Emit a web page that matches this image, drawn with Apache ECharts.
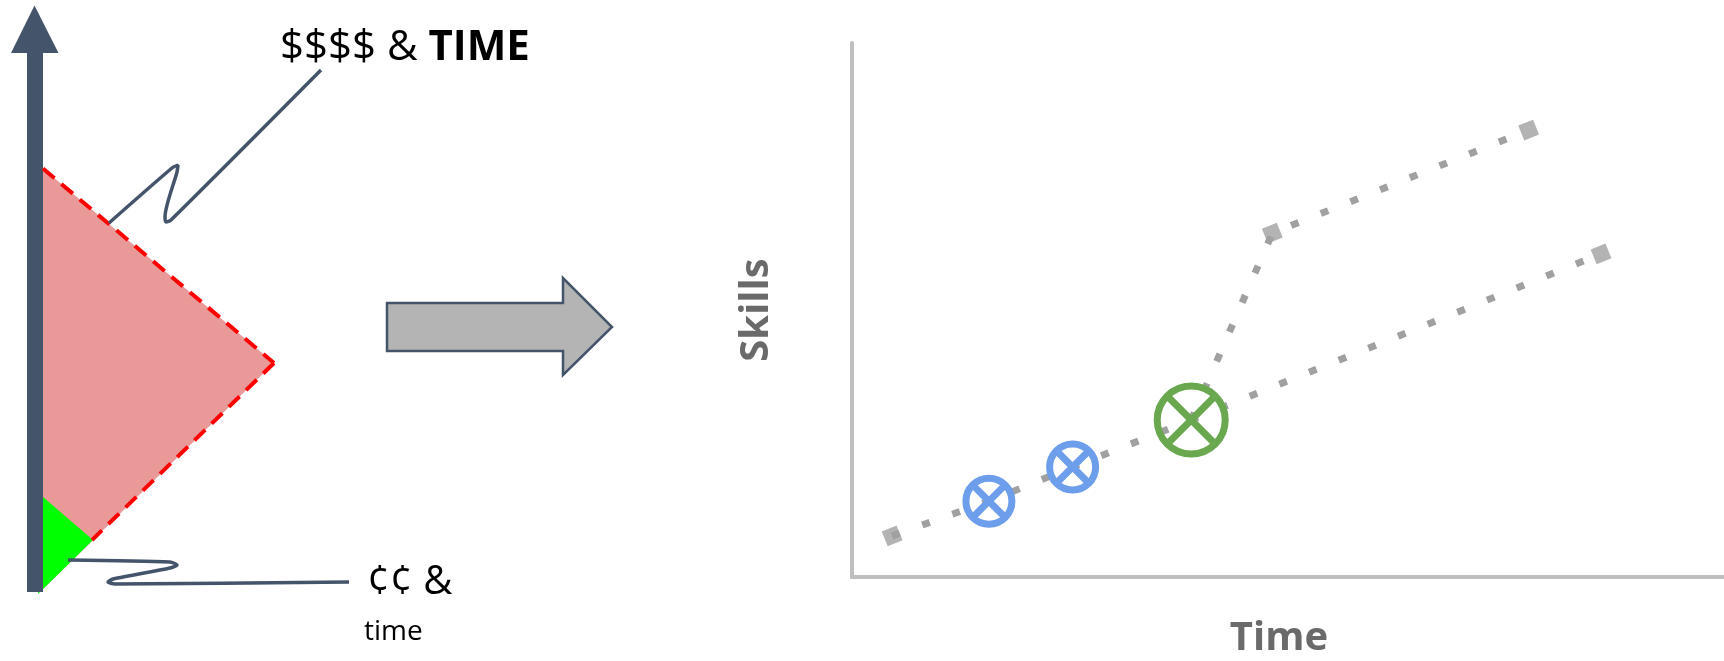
<!DOCTYPE html>
<html>
<head>
<meta charset="utf-8">
<script src="https://cdn.jsdelivr.net/npm/echarts@6/dist/echarts.min.js"></script>
<style>
html, body { margin: 0; padding: 0; background: #fff; }
#chart { width: 1724px; height: 661px; }
</style>
</head>
<body>
<div id="chart"></div>
<script>
// right panel: skills over time, both axes 0..100 (no ticks in the picture)
const lowerPath = [[4.6, 7.7], [15.7, 14.2], [25.3, 20.6], [38.9, 29.4], [85.9, 60.5]];
const upperPath = [[38.9, 29.4], [48.2, 64.4], [77.6, 83.7]];
const milestones = [[4.6, 7.7], [48.2, 64.4], [77.6, 83.7], [85.9, 60.5]];
const smallSteps = [[15.7, 14.2], [25.3, 20.6]];
const bigStep = [[38.9, 29.4]];

// left panel: diagram shapes, in panel units (x right, y down)
const axisShaft = [[27, 53], [43, 53], [43, 592], [27, 592]];
const axisHead = [[11, 53], [34.5, 5.5], [58.5, 53]];
const costRegion = [[43, 168.5], [274, 363], [40, 592]];
const cheapRegion = [[43, 497], [93, 540], [38, 594]];
const upperEdge = [[43, 168.5], [274, 363]];
const lowerEdge = [[274, 363], [92, 540]];
const costCallout = [[109, 223], [172, 168], [178, 165], [177, 172], [165, 217], [166, 222], [171, 220], [321, 70]];
const cheapCallout = [[68, 560], [170, 562], [177, 565], [170, 568], [113, 579], [108, 582], [115, 584], [349, 582]];
const bigArrow = [[387, 303], [563, 303], [563, 278], [612, 327], [563, 375], [563, 351], [387, 351]];

const dark = '#44546A';
const chart = echarts.init(document.getElementById('chart'));

function polygon(points, fill, stroke, lw) {
  return {
    type: 'custom',
    xAxisIndex: 1,
    yAxisIndex: 1,
    silent: true,
    data: [0],
    renderItem: function (params, api) {
      return {
        type: 'polygon',
        shape: { points: points.map(p => api.coord(p)) },
        style: { fill: fill, stroke: stroke || null, lineWidth: lw || 0 }
      };
    }
  };
}

function pathLine(points, style, smooth) {
  return {
    type: 'line',
    xAxisIndex: 1,
    yAxisIndex: 1,
    silent: true,
    data: points,
    showSymbol: false,
    smooth: smooth || false,
    lineStyle: style
  };
}

function crossCircle(data, color, r, lw) {
  return {
    type: 'custom',
    xAxisIndex: 0,
    yAxisIndex: 0,
    silent: true,
    data: data,
    z: 5,
    renderItem: function (params, api) {
      const p = api.coord([api.value(0), api.value(1)]);
      const d = r * 0.72;
      const st = { stroke: color, lineWidth: lw, fill: null };
      return {
        type: 'group',
        children: [
          { type: 'circle', shape: { cx: p[0], cy: p[1], r: r }, style: st },
          { type: 'line', shape: { x1: p[0] - d, y1: p[1] - d, x2: p[0] + d, y2: p[1] + d }, style: st },
          { type: 'line', shape: { x1: p[0] + d, y1: p[1] - d, x2: p[0] - d, y2: p[1] + d }, style: st }
        ]
      };
    }
  };
}

const dotted = { color: '#A0A0A0', width: 7, type: [8, 24], cap: 'butt' };
const hidden = { show: false };

chart.setOption({
  animation: false,
  grid: [
    { left: 852, top: 43, right: 0, bottom: 84 },
    { left: 0, top: 0, width: 620, height: 661 }
  ],
  xAxis: [
    {
      type: 'value', min: 0, max: 100,
      axisLine: { show: true, lineStyle: { color: '#BFBFBF', width: 4 } },
      axisTick: hidden, axisLabel: hidden, splitLine: hidden
    },
    { type: 'value', gridIndex: 1, min: 0, max: 620, show: false }
  ],
  yAxis: [
    {
      type: 'value', min: 0, max: 100,
      axisLine: { show: true, lineStyle: { color: '#BFBFBF', width: 4 } },
      axisTick: hidden, axisLabel: hidden, splitLine: hidden
    },
    { type: 'value', gridIndex: 1, min: 0, max: 661, inverse: true, show: false }
  ],
  series: [
    polygon(costRegion, '#EA9999'),
    polygon(cheapRegion, '#00FF00'),
    pathLine(upperEdge, { color: '#FF0000', width: 4, type: [15, 9] }),
    pathLine(lowerEdge, { color: '#FF0000', width: 4, type: [15, 9] }),
    polygon(axisShaft, dark),
    polygon(axisHead, dark),
    pathLine(costCallout, { color: dark, width: 3.5 }, 0.25),
    pathLine(cheapCallout, { color: dark, width: 3.5 }, 0.25),
    polygon(bigArrow, '#B4B4B4', dark, 2.5),
    {
      type: 'line', data: lowerPath, showSymbol: false, silent: true, lineStyle: dotted
    },
    {
      type: 'line', data: upperPath, showSymbol: false, silent: true, lineStyle: dotted
    },
    {
      type: 'scatter', data: milestones, symbol: 'rect', symbolSize: 16, symbolRotate: 22,
      silent: true, itemStyle: { color: '#A0A0A0' }
    },
    crossCircle(smallSteps, '#6D9EEB', 23, 7),
    crossCircle(bigStep, '#6AA84F', 34, 7)
  ],
  graphic: [
    {
      type: 'text', x: 280, y: 48,
      style: {
        text: '{n|$$$$ & }{b|TIME}',
        verticalAlign: 'middle',
        rich: {
          n: { fontFamily: 'Open Sans', fontSize: 42, color: '#000' },
          b: { fontFamily: 'Open Sans', fontSize: 42, fontWeight: 'bold', color: '#000' }
        }
      }
    },
    {
      type: 'text', x: 367, y: 582.5,
      style: { text: '¢¢ &', fontFamily: 'Open Sans', fontSize: 40, fill: '#000', verticalAlign: 'middle' }
    },
    {
      type: 'text', x: 364, y: 632,
      style: { text: 'time', fontFamily: 'Open Sans', fontSize: 28, fill: '#000', verticalAlign: 'middle' }
    },
    {
      type: 'text', x: 757, y: 310, rotation: Math.PI / 2,
      style: { text: 'Skills', fontFamily: 'Open Sans', fontSize: 40, fontWeight: 'bold', fill: '#6A6A6A', align: 'center', verticalAlign: 'middle' }
    },
    {
      type: 'text', x: 1279, y: 639,
      style: { text: 'Time', fontFamily: 'Open Sans', fontSize: 40, fontWeight: 'bold', fill: '#6A6A6A', align: 'center', verticalAlign: 'middle' }
    }
  ]
});
</script>
</body>
</html>
